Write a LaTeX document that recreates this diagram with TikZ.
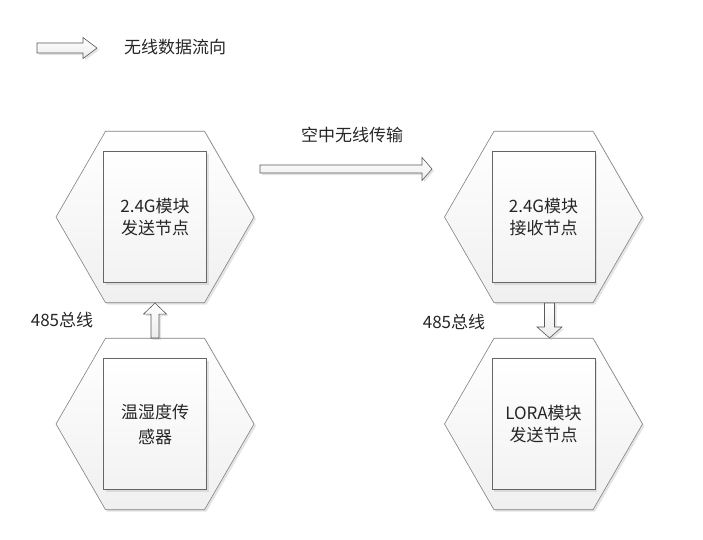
\documentclass[tikz,border=0pt]{standalone}
\usepackage{fontspec}
\setmainfont{Noto Sans CJK SC}
\usetikzlibrary{shapes.geometric,shadows,calc}

\tikzset{
  arrow shaft/.store in=\arrshaft, arrow shaft=4.5pt,
  arrow headw/.store in=\arrheadw, arrow headw=11.5pt,
  arrow headl/.store in=\arrheadl, arrow headl=11pt,
  softshadow/.style={drop shadow={shadow xshift=2pt,shadow yshift=-2pt,fill=gray!60,opacity=.35}},
  hexnode/.style={regular polygon,regular polygon sides=6,minimum size=198pt,inner sep=0pt,
    draw=black!50,line width=.6pt,top color=white,bottom color=gray!12,softshadow},
  modbox/.style={rectangle,draw=black!60,line width=.6pt,top color=white,bottom color=gray!10,
    minimum width=103pt,minimum height=131pt,inner sep=0pt,align=center,
    text=black!85,font=\fontsize{17}{21.5}\selectfont,softshadow},
  lbl/.style={inner sep=0pt,text=black!85,font=\fontsize{17}{20}\selectfont},
  fatarrow/.style={draw=black!65,line width=.6pt,top color=white,bottom color=gray!15,softshadow,
    to path={
      ($(\tikztostart)!\arrshaft!90:(\tikztotarget)$)
      -- ($(\tikztotarget)!\arrheadl!(\tikztostart)!\arrshaft!-90:(\tikztostart)$)
      -- ($(\tikztotarget)!\arrheadl!(\tikztostart)!\arrheadw!-90:(\tikztostart)$)
      -- (\tikztotarget)
      -- ($(\tikztotarget)!\arrheadl!(\tikztostart)!\arrheadw!90:(\tikztostart)$)
      -- ($(\tikztotarget)!\arrheadl!(\tikztostart)!\arrshaft!90:(\tikztostart)$)
      -- ($(\tikztostart)!\arrshaft!-90:(\tikztotarget)$)
      -- cycle}},
}

\begin{document}
\begin{tikzpicture}[x=1pt,y=-1pt]
    \useasboundingbox (0,0) rectangle (703,539);
    % legend
    \coordinate (legA) at (37,48);
    \coordinate (legB) at (97,48);
    \path[fatarrow,arrow shaft=5pt,arrow headw=10.5pt,arrow headl=14pt] (legA) to (legB);
    \node[lbl,anchor=west] (legtxt) at (124,47) {无线数据流向};
    %
    % hexagons
    \node[hexnode] (hexA) at (155,217) {};
    \node[hexnode] (hexB) at (155,424) {};
    \node[hexnode] (hexC) at (543.5,217) {};
    \node[hexnode] (hexD) at (543.5,424) {};
    %
    % modules
    \node[modbox] (sendA) at (hexA) {2.4G模块\\发送节点};
    \node[modbox,font=\fontsize{17}{25}\selectfont] (sensor) at (hexB) {温湿度传\\感器};
    \node[modbox] (recvC) at (hexC) {2.4G模块\\接收节点};
    \node[modbox] (loraD) at (hexD) {LORA模块\\发送节点};
    %
    % data flow
    \path[fatarrow,arrow shaft=4pt] (hexB.north) to (hexA.south);
    \path[fatarrow,arrow shaft=5pt,arrow headw=12.5pt] ([xshift=6pt]hexC.south) to ([xshift=6pt]hexD.north);
    \coordinate (airA) at (260,169);
    \coordinate (airB) at (432,169);
    \path[fatarrow,arrow shaft=4pt,arrow headl=10pt] (airA) to (airB);
    %
    \node[lbl] (airtxt) at (352,135) {空中无线传输};
    \node[lbl] (busL) at (62,320) {485总线};
    \node[lbl] (busR) at (454,322) {485总线};
\end{tikzpicture}
\end{document}
